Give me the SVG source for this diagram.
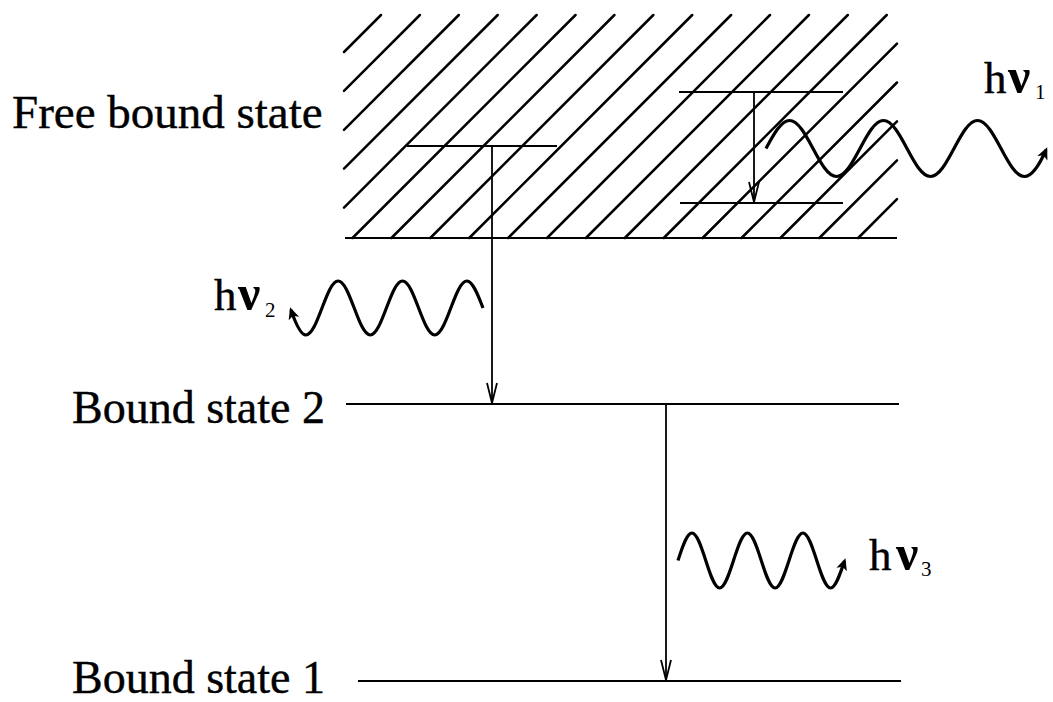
<svg xmlns="http://www.w3.org/2000/svg" width="1053" height="702" viewBox="0 0 1053 702">
<style>
.lbl{font-family:"Liberation Serif","Times New Roman",serif;font-size:47px;fill:#000;stroke:#000;stroke-width:0.4}
.h{font-family:"Liberation Serif","Times New Roman",serif;font-size:45px;fill:#000;stroke:#000;stroke-width:0.4}
.nu{font-family:"Liberation Serif","Times New Roman",serif;font-size:50px;font-weight:bold;fill:#000}
.sub{font-family:"Liberation Serif","Times New Roman",serif;font-size:21px;fill:#000}
.hatch line{stroke:#000;stroke-width:2.5;stroke-linecap:round}
.lvl{stroke:#000;stroke-width:2.2;fill:none}
.arr{stroke:#000;stroke-width:1.8;fill:none;marker-end:url(#va)}
.wave{stroke:#000;stroke-width:3.2;fill:none;stroke-linejoin:round;marker-end:url(#wh)}
</style>
<defs>
<marker id="va" viewBox="-22 -7 24 14" refX="0" refY="0" markerWidth="24" markerHeight="14" markerUnits="userSpaceOnUse" orient="auto">
<path d="M-20,-5 L0,0 L-20,5" fill="none" stroke="#000" stroke-width="1.8"/>
</marker>
<marker id="wh" viewBox="-12 -7 16 14" refX="0" refY="0" markerWidth="16" markerHeight="14" markerUnits="userSpaceOnUse" orient="auto">
<path d="M3,0 L-9,-5.5 L-6,0 L-9,5.5 Z" fill="#000"/>
</marker>
</defs>
<rect width="1053" height="702" fill="#fff"/>

<g id="free-bound-state">
<text class="lbl" x="12" y="128">Free bound state</text>
<g class="hatch">
<line x1="344" y1="52" x2="381" y2="15"/>
<line x1="344" y1="90.9" x2="419.9" y2="15"/>
<line x1="344" y1="129.8" x2="458.8" y2="15"/>
<line x1="344" y1="168.7" x2="497.7" y2="15"/>
<line x1="344" y1="207.6" x2="536.6" y2="15"/>
<line x1="352.5" y1="238" x2="575.5" y2="15"/>
<line x1="391.4" y1="238" x2="614.4" y2="15"/>
<line x1="430.3" y1="238" x2="653.3" y2="15"/>
<line x1="469.2" y1="238" x2="692.2" y2="15"/>
<line x1="508.1" y1="238" x2="731.1" y2="15"/>
<line x1="547" y1="238" x2="770" y2="15"/>
<line x1="585.9" y1="238" x2="808.9" y2="15"/>
<line x1="624.8" y1="238" x2="847.8" y2="15"/>
<line x1="663.7" y1="238" x2="886.7" y2="15"/>
<line x1="702.6" y1="238" x2="897" y2="43.6"/>
<line x1="741.5" y1="238" x2="897" y2="82.5"/>
<line x1="780.4" y1="238" x2="897" y2="121.4"/>
<line x1="819.3" y1="238" x2="897" y2="160.3"/>
<line x1="858.2" y1="238" x2="897" y2="199.2"/>
</g>
<line class="lvl" x1="345" y1="238" x2="897" y2="238"/>
<line class="lvl" x1="407" y1="146" x2="557" y2="146"/>
<line class="lvl" x1="679" y1="92" x2="843" y2="92"/>
<line class="lvl" x1="680" y1="203" x2="843" y2="203"/>
</g>

<g id="bound-state-2">
<text class="lbl" x="72" y="423" style="font-size:46px">Bound state 2</text>
<line class="lvl" x1="346" y1="404" x2="899" y2="404"/>
</g>

<g id="bound-state-1">
<text class="lbl" x="72" y="693" style="font-size:46px">Bound state 1</text>
<line class="lvl" x1="358" y1="681" x2="901" y2="681"/>
</g>

<g id="connectors">
<line class="arr" x1="492" y1="146" x2="492" y2="403"/>
<line class="arr" x1="754" y1="92" x2="754" y2="202"/>
<line class="arr" x1="666" y1="404" x2="666" y2="680"/>
</g>

<g id="photon-1">
<path class="wave" d="M766,148.5 C773.8,133.9 781.3,120.5 789.5,120.5 C806.6,120.5 819.4,176.5 836.5,176.5 C853.6,176.5 866.4,120.5 883.5,120.5 C900.6,120.5 913.4,176.5 930.5,176.5 C947.6,176.5 960.4,120.5 977.5,120.5 C994.6,120.5 1007.4,176.5 1024.5,176.5 C1032.7,176.5 1040.2,163.1 1046,150"/>
<text class="h" x="984" y="93">h</text>
<text class="nu" x="1008" y="93">ν</text>
<text class="sub" x="1035" y="99">1</text>
</g>

<g id="photon-2">
<path class="wave" d="M483,308 C477.7,294 472.5,281 466.9,281 C455.2,281 446.4,335 434.7,335 C423,335 414.2,281 402.5,281 C390.8,281 382,335 370.3,335 C358.6,335 349.8,281 338.1,281 C326.4,281 317.6,335 305.9,335 C300.3,335 295.1,322 291,310"/>
<text class="h" x="214" y="310">h</text>
<text class="nu" x="238" y="310">ν</text>
<text class="sub" x="265" y="317">2</text>
</g>

<g id="photon-3">
<path class="wave" d="M678,560.5 C682.6,546.2 687,533 691.9,533 C702,533 709.5,588 719.6,588 C729.7,588 737.3,533 747.4,533 C757.5,533 765,588 775.1,588 C785.2,588 792.8,533 802.9,533 C813,533 820.5,588 830.6,588 C835.5,588 839.9,574.8 844.5,561"/>
<text class="h" x="869" y="570">h</text>
<text class="nu" x="896" y="570">ν</text>
<text class="sub" x="921" y="576">3</text>
</g>
</svg>
